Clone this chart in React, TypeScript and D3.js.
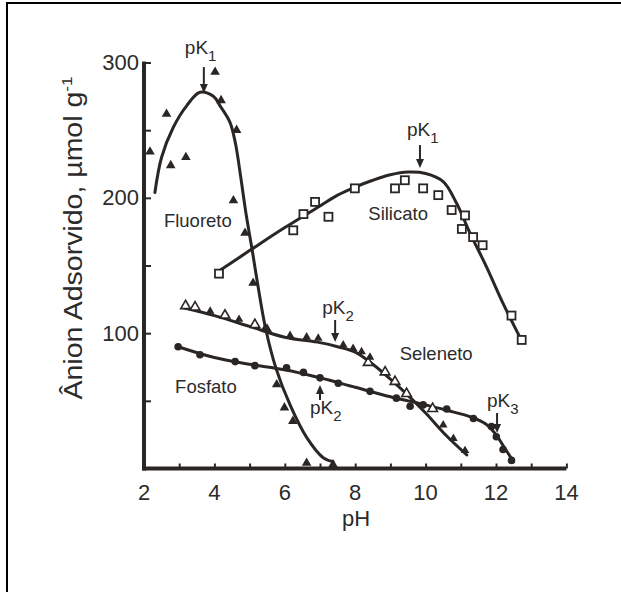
import { useEffect, useRef } from "react";
import * as d3 from "d3";

const W = 621;
const H = 592;

const xTicks = [3, 4, 5, 6, 7, 8, 9, 10, 11, 12, 13, 14];
const xLabels = [2, 4, 6, 8, 10, 12, 14];
const yTicks = [50, 100, 150, 200, 250, 300];
const yLabels = [100, 200, 300];

// [pH, adsorbed]
const fluoretoPts = [
  [2.17, 234], [2.64, 262], [2.76, 224], [3.19, 230], [4.02, 293], [4.19, 272],
  [4.63, 250], [4.54, 198], [4.87, 174], [5.1, 137], [5.5, 103], [5.77, 62],
  [5.99, 45], [6.23, 35], [6.62, 4], [7.37, 3],
];
const fluoretoFit = [
  [2.31, 204], [2.5, 230], [2.83, 252], [3.21, 268], [3.59, 278], [3.97, 275],
  [4.16, 268], [4.44, 256], [4.6, 240], [4.75, 215], [4.9, 188], [5.07, 162],
  [5.25, 133], [5.45, 104], [5.75, 74], [6.15, 47], [6.62, 23], [7.09, 8], [7.37, 5],
];

const silicatoPts = [
  [4.13, 144], [6.24, 176], [6.53, 188], [6.86, 197], [7.24, 186], [7.99, 207],
  [9.13, 207], [9.41, 213], [9.93, 207], [10.36, 202], [10.74, 191], [11.12, 187],
  [11.03, 177], [11.35, 171], [11.62, 165], [12.44, 113], [12.73, 95],
];
const silicatoFit = [
  [4.13, 146], [5, 161], [6, 178], [7, 194], [7.5, 202], [8, 208], [8.5, 213],
  [9, 217], [9.5, 219], [10, 218], [10.5, 212], [10.88, 196], [11.26, 174],
  [11.73, 149], [12.2, 122], [12.68, 97],
];

const selenetoOpen = [
  [3.18, 118], [3.45, 117], [4.3, 111], [5.15, 104], [8.37, 76], [8.85, 69],
  [9.13, 62], [9.46, 53], [10.2, 42],
];
const selenetoFilled = [
  [3.88, 114], [4.7, 108], [5.45, 102], [6.15, 96], [6.62, 95], [6.95, 94],
  [7.66, 89], [7.94, 86.5], [8.18, 84], [8.42, 80], [10.5, 30], [10.79, 20], [11.12, 11],
];
const selenetoFit = [
  [3.1, 119], [4, 113], [5, 105], [6, 97], [7, 93], [7.5, 90], [8, 86], [8.5, 77],
  [9, 66], [9.5, 54], [10, 41], [10.6, 24], [11.17, 10],
];

const fosfatoPts = [
  [2.97, 90], [3.59, 84], [4.59, 79], [5.15, 76], [6.05, 74.5], [6.53, 71],
  [7.0, 67], [7.52, 63], [8.42, 57], [9.17, 52], [9.56, 46], [9.93, 47],
  [10.6, 44], [11.36, 37], [11.87, 31], [12.01, 23.5], [12.2, 14], [12.44, 6],
];
const fosfatoFit = [
  [2.97, 90], [4, 82], [5, 77], [6, 73], [7, 67], [8, 60], [9, 53], [10, 47],
  [10.6, 43], [11.3, 38], [11.7, 33], [12.0, 25], [12.2, 17], [12.5, 5],
];

const seriesNames = ["Fluoreto", "Silicato", "Seleneto", "Fosfato"];
const seriesNameAt = [[3.53, 178.5], [9.22, 183.6], [10.3, 80], [3.76, 55.8]];

// pK arrows: pH, tip value, tail value, subscript
const pkArrows = [
  { ph: 3.7, tip: 277.5, tail: 296.6, sub: "1", dx: -19, dy: -13 },
  { ph: 9.84, tip: 222, tail: 239, sub: "1", dx: -13, dy: -9 },
  { ph: 7.43, tip: 93.5, tail: 109.7, sub: "2", dx: -13, dy: -6 },
  { ph: 7.0, tip: 61.7, tail: 50.6, sub: "2", dx: -10, dy: 14 },
  { ph: 12.03, tip: 26.2, tail: 41, sub: "3", dx: -10, dy: -6 },
];

const ink = "#2a2624";
const font = "'Liberation Sans', Arial, Helvetica, sans-serif";

export default function App() {
  const xAxisRef = useRef<SVGGElement>(null);
  const yAxisRef = useRef<SVGGElement>(null);

  const x = d3.scaleLinear().domain([2, 14]).range([144, 566.4]);
  const y = d3.scaleLinear().domain([0, 300]).range([468.5, 62.5]);

  const line = d3
    .line<number[]>()
    .x((d) => x(d[0]))
    .y((d) => y(d[1]))
    .curve(d3.curveCatmullRom.alpha(0.5));

  const tri = d3.symbol(d3.symbolTriangle, 40)() as string;
  const triSmall = d3.symbol(d3.symbolTriangle, 32)() as string;

  useEffect(() => {
    const gx = d3.select(xAxisRef.current);
    gx.selectAll("*").remove();
    gx.call(
      d3
        .axisBottom(x)
        .tickValues(xTicks)
        .tickSize(-5)
        .tickSizeOuter(0)
        .tickPadding(0)
        .tickFormat(() => "")
    );
    gx.select(".domain").attr("stroke", ink).attr("stroke-width", 4)
      .attr("d", `M${x(2) - 2},0H${x(14)}`);
    gx.selectAll(".tick line").attr("stroke", ink).attr("stroke-width", 2);

    gx.selectAll("text.lbl")
      .data(xLabels)
      .join("text")
      .attr("class", "lbl")
      .attr("x", (d) => x(d))
      .attr("y", 31)
      .attr("text-anchor", "middle")
      .attr("fill", "#2b2b2b")
      .attr("font-family", font)
      .attr("font-size", 22)
      .text((d) => d);

    const gy = d3.select(yAxisRef.current);
    gy.selectAll("*").remove();
    gy.call(
      d3
        .axisLeft(y)
        .tickValues(yTicks)
        .tickSize(-7)
        .tickSizeOuter(0)
        .tickPadding(5)
        .tickFormat((d) => (yLabels.includes(d as number) ? String(d) : ""))
    );
    gy.attr("font-family", font).attr("font-size", 22);
    gy.select(".domain").attr("stroke", ink).attr("stroke-width", 4)
      .attr("d", `M0,${y(300) - 1}V${y(0) + 2}`);
    gy.selectAll(".tick line").attr("stroke", ink).attr("stroke-width", 2);
    gy.selectAll(".tick text").attr("fill", "#2b2b2b");
  }, []);

  return (
    <svg
      width={W}
      height={H}
      style={{ position: "absolute", left: 0, top: 0, background: "#fff" }}
    >
      <path d={`M7,${H}V3H${W}`} fill="none" stroke="#000" strokeWidth={2} />

      <g ref={yAxisRef} transform={`translate(${x(2)},0)`} />
      <g ref={xAxisRef} transform={`translate(0,${y(0)})`} />

      <text
        transform="translate(82,238) rotate(-90) scale(1.14,1)"
        textAnchor="middle"
        fontFamily={font}
        fontSize={25}
        fill="#2b2b2b"
      >
        Ânion Adsorvido, µmol g<tspan dy={-10} fontSize={15}>-1</tspan>
      </text>
      <text x={356} y={526} textAnchor="middle" fontFamily={font} fontSize={22} fill="#2b2b2b">
        pH
      </text>

      {/* fitted curves */}
      {[fluoretoFit, silicatoFit, selenetoFit, fosfatoFit].map((s, i) => (
        <path key={i} d={line(s) as string} fill="none" stroke={ink} strokeWidth={3} strokeLinecap="round" />
      ))}

      {/* markers */}
      {fluoretoPts.map((d, i) => (
        <path key={"f" + i} d={tri} transform={`translate(${x(d[0])},${y(d[1])})`} fill={ink} />
      ))}
      {silicatoPts.map((d, i) => (
        <rect
          key={"s" + i}
          x={x(d[0]) - 4}
          y={y(d[1]) - 4}
          width={8}
          height={8}
          fill="#fff"
          stroke={ink}
          strokeWidth={1.8}
        />
      ))}
      {selenetoOpen.map((d, i) => (
        <path
          key={"so" + i}
          d={tri}
          transform={`translate(${x(d[0])},${y(d[1]) - 3})`}
          fill="#fff"
          stroke={ink}
          strokeWidth={1.6}
        />
      ))}
      {selenetoFilled.map((d, i) => (
        <path key={"sf" + i} d={triSmall} transform={`translate(${x(d[0])},${y(d[1]) - 3})`} fill={ink} />
      ))}
      {fosfatoPts.map((d, i) => (
        <circle key={"p" + i} cx={x(d[0])} cy={y(d[1])} r={3.8} fill={ink} />
      ))}

      {/* series names */}
      {seriesNames.map((n, i) => (
        <text
          key={n}
          x={x(seriesNameAt[i][0])}
          y={y(seriesNameAt[i][1])}
          textAnchor="middle"
          fontFamily={font}
          fontSize={18.5}
          fill="#2b2b2b"
        >
          {n}
        </text>
      ))}

      {/* pK arrows */}
      {pkArrows.map((a, i) => {
        const ax = x(a.ph);
        const tipY = y(a.tip);
        const tailY = y(a.tail);
        const dir = tipY > tailY ? 1 : -1;
        const headBase = tipY - dir * 9;
        return (
          <g key={"pk" + i}>
            <line x1={ax} y1={tailY} x2={ax} y2={headBase} stroke={ink} strokeWidth={2} />
            <path d={`M${ax - 4},${headBase}L${ax + 4},${headBase}L${ax},${tipY}Z`} fill={ink} />
            <text x={ax + a.dx} y={tailY + a.dy} fontFamily={font} fontSize={19} fill="#2b2b2b">
              pK
              <tspan dy={7} fontSize={15}>
                {a.sub}
              </tspan>
            </text>
          </g>
        );
      })}
    </svg>
  );
}
